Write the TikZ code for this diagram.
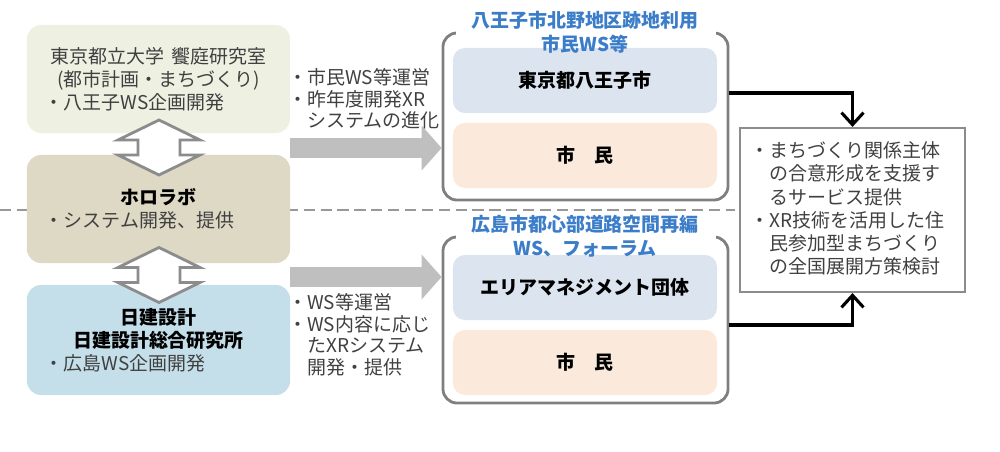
\documentclass[tikz,border=0pt]{standalone}
\usepackage{fontspec}
\setmainfont{Noto Sans CJK JP}
\usepackage{xcolor}
\usetikzlibrary{arrows.meta, positioning}

\definecolor{tmugreen}{HTML}{EEF1E2}
\definecolor{holokhaki}{HTML}{DDD9C4}
\definecolor{nikkenblue}{HTML}{C4DFE9}
\definecolor{cityblue}{HTML}{DCE4F0}
\definecolor{citizenpeach}{HTML}{FBEADC}
\definecolor{titleblue}{HTML}{3B7DC8}
\definecolor{bodygray}{HTML}{404040}
\definecolor{framegray}{HTML}{7F7F7F}
\definecolor{arrowgray}{HTML}{BFBFBF}

\begin{document}
\begin{tikzpicture}[
        x=0.025cm, y=-0.025cm,
        every node/.style={font=\fontsize{13.5}{16.5}\selectfont, text=bodygray},
        orgbox/.style={rectangle, rounded corners=0.35cm, minimum width=6.575cm,
        minimum height=2.7cm, text width=5.675cm, inner sep=0pt},
        groupframe/.style={rectangle, draw=framegray, line width=2pt,
        rounded corners=0.35cm, minimum width=7.125cm, minimum height=4.175cm},
        memberbox/.style={rectangle, rounded corners=0.3cm, minimum width=6.6cm,
        minimum height=1.625cm, font=\fontsize{13.5}{16.5}\selectfont\bfseries,
        text=black},
        grouptitle/.style={align=center, inner sep=0pt, text=titleblue,
        font=\fontsize{13.5}{17}\selectfont\bfseries},
        twoway/.pic={
          \draw[framegray!90, fill=white, line width=2pt, line join=miter]
          (0,-27.5) -- (41,-7.5) -- (21,-7.5) -- (21,7.5) -- (41,7.5) -- (0,27.5)
          -- (-41,7.5) -- (-21,7.5) -- (-21,-7.5) -- (-41,-7.5) -- cycle;
        },
        workflow/.style={line width=0.5cm, draw=arrowgray,
        -{Triangle[length=0.5cm, width=1.1cm]}},
        feedin/.style={line width=2.2pt, draw=black,
        -{Straight Barb[length=0.3cm, width=0.55cm]}},
        remark/.style={align=left, inner sep=0pt, anchor=west,
        font=\fontsize{13.5}{15.3}\selectfont},
      ]
      \useasboundingbox (0,0) rectangle (1000,452);

      % separator between the two projects
      \draw[framegray!80, line width=2pt, dash pattern=on 8pt off 4pt]
      (0,210) -- (735,210);

      % left column: organisations
      \node[orgbox, fill=tmugreen] (tmu) at (158.5,79)
      {\centering 東京都立大学 饗庭研究室\\(都市計画・まちづくり)\par
        \raggedright ・八王子WS企画開発};
      \node[orgbox, fill=holokhaki] (hololab) at (158.5,209)
      {\centering\textcolor{black}{\bfseries ホロラボ}\par
        \raggedright ・システム開発、提供};
      \node[orgbox, fill=nikkenblue, minimum height=2.75cm] (nikken) at (158.5,340)
      {\centering\textcolor{black}{\bfseries 日建設計\\日建設計総合研究所}\par
        \raggedright ・広島WS企画開発};

      \pic (linkA) at (159,147.5) {twoway};
      \pic (linkB) at (159,275) {twoway};

      % Hachioji workshop
      \node[groupframe] (hachioji) at (585.5,116.5) {};
      \fill[white] (456,30) rectangle (716,37);
      \node[memberbox, fill=cityblue] (city) at (585,80.5) {東京都八王子市};
      \node[memberbox, fill=citizenpeach] (citizenA) at (585,155.5) {市　民};
      \node[grouptitle] (titleA) at (585,32) {八王子市北野地区跡地利用\\市民WS等};

      % Hiroshima workshop
      \node[groupframe, minimum height=4.15cm] (hiroshima) at (585.5,320) {};
      \fill[white] (456,233) rectangle (716,241);
      \node[memberbox, fill=cityblue] (areamgmt) at (585,287.5) {エリアマネジメント団体};
      \node[memberbox, fill=citizenpeach] (citizenB) at (585,362.5) {市　民};
      \node[grouptitle] (titleB) at (585,236) {広島市都心部道路空間再編\\WS、フォーラム};

      % outcome
      \node[rectangle, draw=framegray!90, line width=1.5pt, minimum width=5.625cm,
        minimum height=4.1cm] (outcome) at (852.5,210) {};
      \node[align=left, inner sep=0pt, text width=5.1cm,
        font=\fontsize{13.5}{16.5}\selectfont] (aims) at (852.5,208.5)
      {・まちづくり関係主体\\\hspace*{1em}の合意形成を支援す\\\hspace*{1em}るサービス提供\\
        ・XR技術を活用した住\\\hspace*{1em}民参加型まちづくり\\\hspace*{1em}の全国展開方策検討};

      % flows
      \draw[workflow] (hololab.east |- 0,148) -- (hachioji.west |- 0,148);
      \draw[workflow] (hololab.east |- 0,277) -- (hiroshima.west |- 0,277);
      \node[remark] (opsA) at (288,99)
      {・市民WS等運営\\・昨年度開発XR\\\hspace*{1em}システムの進化};
      \node[remark] (opsB) at (288,335)
      {・WS等運営\\・WS内容に応じ\\\hspace*{1em}たXRシステム\\\hspace*{1em}開発・提供};

      \draw[feedin] (hachioji.east |- 0,93) -| (outcome.north);
      \draw[feedin] (hiroshima.east |- 0,325) -| (outcome.south);

    \end{tikzpicture}
\end{document}
